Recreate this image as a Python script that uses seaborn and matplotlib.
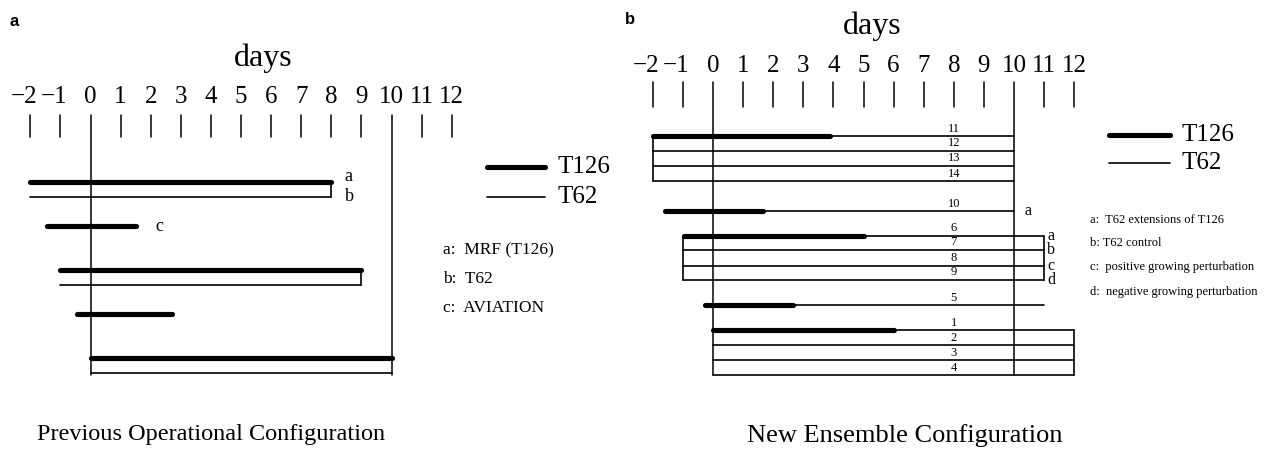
import pandas as pd
import matplotlib.pyplot as plt
import seaborn as sns
from matplotlib.lines import Line2D

sns.set_style('white')
plt.rcParams['font.family'] = ['Liberation Serif', 'DejaVu Serif']
plt.rcParams['text.color'] = 'black'

# ---- data (days) ----
days = list(range(-2, 13))

# panel a: previous operational runs
a_row = [0, 1, 3, 6, 7, 9, 12, 13]
a_start = [-2, -2, -1.45, -1, -1, -0.45, 0, 0]
a_end = [8, 8, 1.5, 9, 9, 2.7, 10, 10]
a_model = ['T126', 'T62', 'T126', 'T126', 'T62', 'T126', 'T126', 'T62']
a_tag = ['a', 'b', 'c', '', '', '', '', '']
a_notes = ['a:  MRF (T126)', 'b:  T62', 'c:  AVIATION']

# panel b: ensemble members (T126 until hi_end, then T62)
b_member = [11, 12, 13, 14, 10, 6, 7, 8, 9, 5, 1, 2, 3, 4]
b_row = [0, 1, 2, 3.05, 5.05, 6.7, 7.65, 8.7, 9.65, 11.35, 13.05, 14.05, 15.05, 16.05]
b_start = [-2, -2, -2, -2, -1.6, -0.95, -1, -1, -1, -0.25, 0, 0, 0, 0]
b_hi_end = [3.9, None, None, None, 1.65, 5.0, None, None, None, 2.65, 6.0, None, None, None]
b_end = [10, 10, 10, 10, 10, 11, 11, 11, 11, 11, 12, 12, 12, 12]
b_tag = {5.05: ('a', 10.35), 6.7: ('a', 11.1), 7.65: ('b', 11.1), 8.7: ('c', 11.1), 9.65: ('d', 11.1)}
b_notes = ['a:  T62 extensions of T126', 'b: T62 control',
           'c:  positive growing perturbation', 'd:  negative growing perturbation']

# brackets joining pairs/groups of runs: (day, row_top, row_bottom)
a_brackets = [(8, 0, 1), (9, 6, 7)]
b_brackets = [(-2, 0, 3.05), (-1, 6.7, 9.65), (11, 6.7, 9.65), (12, 13.05, 16.05)]

W, H = 1269, 457
PXD = 30.1
fig = plt.figure(figsize=(W / 100, H / 100), dpi=100)


def segs_a():
    recs = []
    for i in range(len(a_row)):
        for d in (a_start[i], a_end[i]):
            recs.append(dict(seg=i, day=d, row=a_row[i], model=a_model[i]))
    for j, (d, r0, r1) in enumerate(a_brackets):
        for r in (r0, r1):
            recs.append(dict(seg=100 + j, day=d, row=r, model='T62'))
    return pd.DataFrame(recs)


def segs_b():
    recs = []
    for i in range(len(b_row)):
        s, h, e = b_start[i], b_hi_end[i], b_end[i]
        if h is not None:
            recs += [dict(seg=i, day=s, row=b_row[i], model='T126'),
                     dict(seg=i, day=h, row=b_row[i], model='T126')]
            s = h
        recs += [dict(seg=50 + i, day=s, row=b_row[i], model='T62'),
                 dict(seg=50 + i, day=e, row=b_row[i], model='T62')]
    for j, (d, r0, r1) in enumerate(b_brackets):
        for r in (r0, r1):
            recs.append(dict(seg=100 + j, day=d, row=r, model='T62'))
    return pd.DataFrame(recs)


def make_ax(left, right, x0, y0, pxr):
    ax = fig.add_axes([left / W, 0, (right - left) / W, 1])
    ax.set_xlim((left - x0) / PXD, (right - x0) / PXD)
    ax.set_ylim((H - y0) / pxr, (0 - y0) / pxr)
    ax.axis('off')
    return ax


def draw(ax, df):
    thick = df[df['model'] == 'T126']
    thin = df[df['model'] == 'T62']
    sns.lineplot(data=thin, x='day', y='row', units='seg', estimator=None, sort=False,
                 color='black', linewidth=1.2, ax=ax, legend=False)
    sns.lineplot(data=thick, x='day', y='row', units='seg', estimator=None, sort=False,
                 color='black', linewidth=3.7, solid_capstyle='round', ax=ax, legend=False)


def axis_days(ax, y0, pxr, tick_top, tick_bot, long_bot, lab_y, days_x, days_y):
    r = lambda p: (p - y0) / pxr
    for d in days:
        bot = r(long_bot) if d in (0, 10) else r(tick_bot)
        ax.plot([d, d], [r(tick_top), bot], color='black', lw=1.1)
        if d < 0:
            ax.text(d + 0.22, r(lab_y), '\u2212' + str(-d), ha='right', va='baseline', fontsize=18)
        else:
            ax.text(d, r(lab_y), str(d), ha='center', va='baseline', fontsize=18)
    ax.text(days_x, r(days_y), 'days', ha='center', va='baseline', fontsize=23)


def legend(x1, x2, y1, y2, notes, note_x, note_ys, note_fs):
    fig.add_artist(Line2D([x1 / W, x2 / W], [1 - y1 / H] * 2, color='black', lw=3.7,
                          solid_capstyle='round'))
    fig.add_artist(Line2D([x1 / W, x2 / W], [1 - y2 / H] * 2, color='black', lw=1.2))
    fig.text((x2 + 12) / W, 1 - y1 / H, 'T126', va='center', fontsize=18)
    fig.text((x2 + 12) / W, 1 - y2 / H, 'T62', va='center', fontsize=18)
    for t, y in zip(notes, note_ys):
        fig.text(note_x / W, 1 - y / H, t, va='center', fontsize=note_fs)


# ---- panel a ----
axa = make_ax(0, 620, 90.5, 182, 14.7)
draw(axa, segs_a())
axis_days(axa, 182, 14.7, 115, 137, 375, 103, (263.5 - 90.5) / PXD, 66)
for i, t in enumerate(a_tag):
    if t:
        xd = a_end[i] + 0.45 if t != 'c' else a_end[i] + 0.65
        axa.text(xd, a_row[i] - (0.35 if t == 'a' else 0), t, va='center', fontsize=13)
legend(487, 545, 167, 197, a_notes, 443, [250, 279, 308], 12.5)
fig.text(211 / W, 1 - 440 / H, 'Previous Operational Configuration', ha='center',
         va='baseline', fontsize=17.5)
fig.text(14 / W, 1 - 22 / H, 'a', ha='center', va='center', fontsize=12,
         fontweight='bold', family='Liberation Sans')

# ---- panel b ----
axb = make_ax(620, W, 713, 136, 14.9)
draw(axb, segs_b())
axis_days(axb, 136, 14.9, 82, 107, 375, 72, (871.7 - 713) / PXD, 34)
for m, rr in zip(b_member, b_row):
    axb.text(8, rr - 0.1, str(m), ha='center', va='bottom', fontsize=9)
for rr, (t, xd) in b_tag.items():
    axb.text(xd, rr, t, va='center', fontsize=11.5)
legend(1109, 1170, 135, 163, b_notes, 1090, [220, 243, 267, 292], 9)
fig.text(905 / W, 1 - 442 / H, 'New Ensemble Configuration', ha='center',
         va='baseline', fontsize=19)
fig.text(630 / W, 1 - 20 / H, 'b', ha='center', va='center', fontsize=12,
         fontweight='bold', family='Liberation Sans')

fig.savefig('out.png', dpi=100)
